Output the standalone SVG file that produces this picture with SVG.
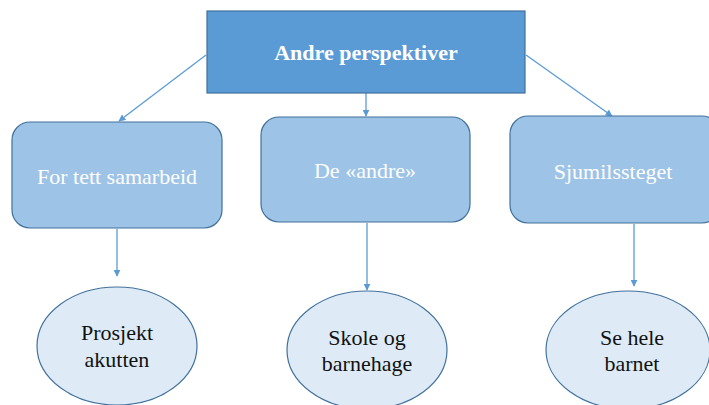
<svg xmlns="http://www.w3.org/2000/svg" width="709" height="405" viewBox="0 0 709 405">
<defs>
<marker id="ah" viewBox="0 0 10 10" refX="9" refY="5" markerWidth="7" markerHeight="7" orient="auto" markerUnits="userSpaceOnUse">
<path d="M0,0 L10,5 L0,10 z" fill="#5B9BD5"/>
</marker>
<style>
.top{fill:#5B9BD5;stroke:#41719C;stroke-width:1.2}
.box{fill:#9DC3E6;stroke:#41719C;stroke-width:1.2}
.ell{fill:#DEEBF7;stroke:#41719C;stroke-width:1.2}
.con{stroke:#5B9BD5;stroke-width:1.3;fill:none;marker-end:url(#ah)}
.tt{fill:#fff;font-family:'Liberation Serif',serif;font-size:22px;font-weight:bold;text-anchor:middle}
.bt{fill:#fff;font-family:'Liberation Serif',serif;font-size:22px;text-anchor:middle}
.et{fill:#111;font-family:'Liberation Serif',serif;font-size:22px;text-anchor:middle}
</style>
</defs>
<rect width="709" height="405" fill="#fff"/>
<g id="connectors">
<line class="con" x1="206" y1="55" x2="119" y2="121"/>
<line class="con" x1="366" y1="93" x2="366" y2="116"/>
<line class="con" x1="526" y1="55" x2="612" y2="116"/>
<line class="con" x1="117" y1="229" x2="117" y2="276"/>
<line class="con" x1="367" y1="223" x2="367" y2="290"/>
<line class="con" x1="634" y1="224" x2="634" y2="286"/>
</g>
<g id="n-top">
<rect class="top" x="207" y="11" width="318" height="82"/>
<text class="tt" x="366" y="60" style="font-family:'Liberation Serif'">Andre perspektiver</text>
</g>
<g id="n-left">
<rect class="box" x="12" y="122" width="210" height="106" rx="18"/>
<text class="bt" x="117" y="184" style="font-family:'Liberation Serif'">For tett samarbeid</text>
</g>
<g id="n-mid">
<rect class="box" x="261" y="117" width="209" height="105" rx="18"/>
<text class="bt" x="365" y="178" style="font-family:'Liberation Serif'">De «andre»</text>
</g>
<g id="n-right">
<rect class="box" x="510" y="116" width="210" height="107" rx="18"/>
<text class="bt" x="613" y="179" style="font-family:'Liberation Serif'">Sjumilssteget</text>
</g>
<g id="e-left">
<ellipse class="ell" cx="117" cy="346" rx="80" ry="59"/>
<text class="et" x="117" y="340" style="font-family:'Liberation Serif'">Prosjekt</text>
<text class="et" x="117" y="367" style="font-family:'Liberation Serif'">akutten</text>
</g>
<g id="e-mid">
<ellipse class="ell" cx="367" cy="350" rx="80" ry="59"/>
<text class="et" x="367" y="345" style="font-family:'Liberation Serif'">Skole og</text>
<text class="et" x="367" y="371" style="font-family:'Liberation Serif'">barnehage</text>
</g>
<g id="e-right">
<ellipse class="ell" cx="628" cy="350" rx="82" ry="59"/>
<text class="et" x="632" y="345" style="font-family:'Liberation Serif'">Se hele</text>
<text class="et" x="632" y="371" style="font-family:'Liberation Serif'">barnet</text>
</g>
</svg>
